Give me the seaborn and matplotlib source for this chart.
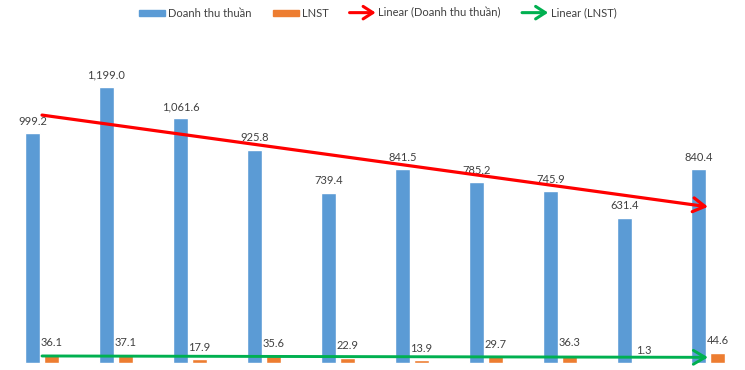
import numpy as np
import pandas as pd
import matplotlib
matplotlib.use("Agg")
import matplotlib.pyplot as plt
import seaborn as sns
from matplotlib.patches import Patch, FancyArrowPatch
from matplotlib.lines import Line2D
from matplotlib.legend_handler import HandlerBase

# ---- data ----
periods = ["P1", "P2", "P3", "P4", "P5", "P6", "P7", "P8", "P9", "P10"]
doanh_thu = [999.2, 1199.0, 1061.6, 925.8, 739.4, 841.5, 785.2, 745.9, 631.4, 840.4]
lnst = [36.1, 37.1, 17.9, 35.6, 22.9, 13.9, 29.7, 36.3, 1.3, 44.6]
series_names = ["Doanh thu thuần", "LNST"]
trend_names = ["Linear (Doanh thu thuần)", "Linear (LNST)"]

BLUE = "#5B9BD5"
ORANGE = "#ED7D31"
RED = "#FF0000"
GREEN = "#00B050"
TXT = "#404040"

sns.set_theme(style="white")
plt.rcParams["font.family"] = ["Lato", "DejaVu Sans"]

df = pd.DataFrame({
    "period": periods * 2,
    "value": doanh_thu + lnst,
    "series": [series_names[0]] * len(periods) + [series_names[1]] * len(periods),
})

fig = plt.figure(figsize=(7.45, 3.70), dpi=100)
ax = fig.add_axes([0, 0, 1, 1])

sns.barplot(data=df, x="period", y="value", hue="series", hue_order=series_names,
            palette=[BLUE, ORANGE], width=0.514, gap=0.21, dodge=True,
            legend=False, ax=ax, saturation=1, err_kws={"linewidth": 0})

for cont in ax.containers:
    ax.bar_label(cont, labels=[f"{v:,.1f}" for v in cont.datavalues],
                 padding=4.5, fontsize=8, color=TXT)

# linear trend lines (Excel-style)
xs = np.arange(len(periods))
arrow_style = "->,head_length=0.85,head_width=0.5"
for vals, col, lw in [(doanh_thu, RED, 2.3), (lnst, GREEN, 2.1)]:
    k, b = np.polyfit(xs, vals, 1)
    ax.annotate("", xy=(xs[-1], k * xs[-1] + b), xytext=(xs[0], k * xs[0] + b),
                arrowprops=dict(arrowstyle=arrow_style, color=col, lw=lw,
                                shrinkA=0, shrinkB=0, mutation_scale=10),
                zorder=5)

ax.set_xlim(-42 / 74, (745 - 42) / 74)
ax.set_ylim(-7 / 0.2304, 363 / 0.2304)
ax.axis("off")


class HandlerArrow(HandlerBase):
    def create_artists(self, legend, orig_handle, xdescent, ydescent, width, height,
                       fontsize, trans):
        y = height / 2 - ydescent
        a = FancyArrowPatch((-xdescent, y), (width - xdescent, y),
                            arrowstyle="->,head_length=0.7,head_width=0.45",
                            color=orig_handle.get_color(), lw=2.2,
                            mutation_scale=10, shrinkA=0, shrinkB=0)
        a.set_transform(trans)
        return [a]


handles = [Patch(color=BLUE), Patch(color=ORANGE),
           Line2D([], [], color=RED), Line2D([], [], color=GREEN)]
labels = series_names + trend_names
leg = fig.legend(handles, labels, loc="center", bbox_to_anchor=(378 / 745, 1 - 13 / 370),
                 ncol=4, frameon=False, fontsize=8, handlelength=2.35,
                 handleheight=0.45, handletextpad=0.25, columnspacing=1.9,
                 handler_map={Line2D: HandlerArrow()})
for t in leg.get_texts():
    t.set_color(TXT)

fig.savefig("out.png", dpi=100)
